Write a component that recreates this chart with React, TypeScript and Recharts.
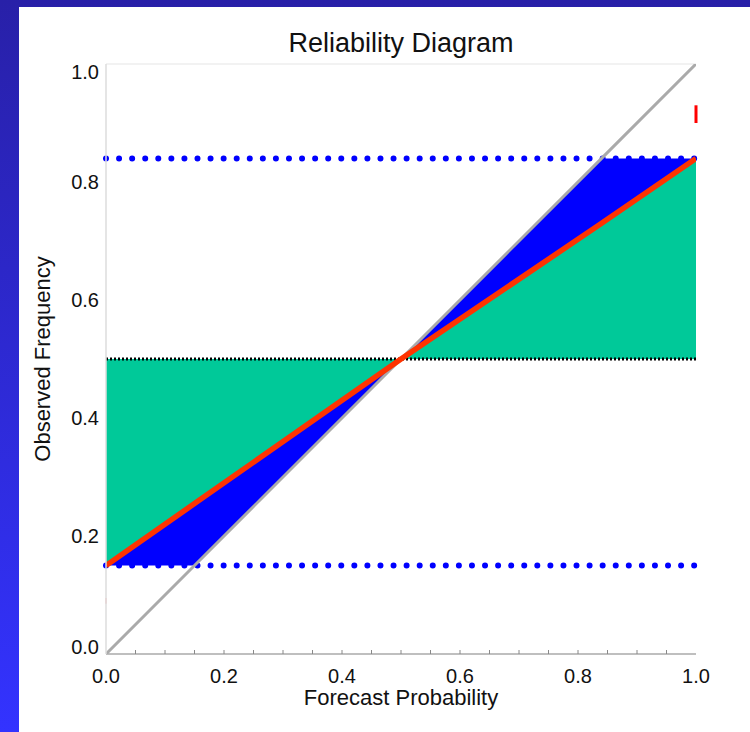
import React from 'react';
import {
  ComposedChart,
  Area,
  Line,
  XAxis,
  YAxis,
  ReferenceLine,
  Label,
} from 'recharts';

// Forecast probability break points
const forecast = [0, 0.15, 0.5, 0.84, 1];
// Observed frequency (reliability curve, red)
const observed = [0.15, 0.255, 0.5, 0.73, 0.84];
// Perfect reliability diagonal
const perfect = [0, 0.15, 0.5, 0.84, 1];
// Blue band (between reliability curve and diagonal, clipped by resolution limits)
const blueLow = [0.15, 0.15, 0.5, 0.73, 0.84];
const blueHigh = [0.15, 0.255, 0.5, 0.84, 0.84];
// Green band (between climatology and reliability curve)
const greenLow = [0.15, 0.255, 0.5, 0.5, 0.5];
const greenHigh = [0.5, 0.5, 0.5, 0.73, 0.84];

const climatology = 0.5;
const lowerLimit = 0.15;
const upperLimit = 0.84;

const xTicks = [0, 0.05, 0.1, 0.15, 0.2, 0.25, 0.3, 0.35, 0.4, 0.45, 0.5, 0.55, 0.6, 0.65, 0.7, 0.75, 0.8, 0.85, 0.9, 0.95, 1];
const yTicks = [0, 0.2, 0.4, 0.6, 0.8, 1];
const rightTicks = xTicks;

const data = forecast.map((p, i) => ({
  p,
  obs: observed[i],
  diag: perfect[i],
  blue: [blueLow[i], blueHigh[i]],
  green: [greenLow[i], greenHigh[i]],
}));

const FONT = '"Liberation Sans", Arial, Helvetica, sans-serif';

const XTick = (props: any) => {
  const { x, y, payload } = props;
  const v = payload.value as number;
  const major = Math.round(v * 100) % 20 === 0;
  return (
    <g>
      {v > 0.001 && v < 0.999 && (
        <line x1={x} x2={x} y1={y} y2={y - 4} stroke="#888" strokeWidth={1} />
      )}
      {major && (
        <text x={x} y={y + 29} textAnchor="middle" fontSize={20} fontFamily={FONT} fill="#111">
          {v.toFixed(1)}
        </text>
      )}
    </g>
  );
};

const YTick = (props: any) => {
  const { x, y, payload } = props;
  const v = payload.value as number;
  let dy = 7;
  if (v < 0.001) dy = 0;
  if (v > 0.999) dy = 15;
  return (
    <text x={x - 7} y={y + dy} textAnchor="end" fontSize={20} fontFamily={FONT} fill="#111">
      {v.toFixed(1)}
    </text>
  );
};

const RTick = (props: any) => {
  const { x, y, payload } = props;
  const v = payload.value as number;
  if (v < 0.001 || v > 0.999) return <g />;
  return <line x1={x} x2={x - 3} y1={y} y2={y} stroke="#777" strokeWidth={1} />;
};

export default function App() {
  return (
    <div
      style={{
        position: 'absolute',
        left: 0,
        top: 0,
        width: 750,
        height: 732,
        background: 'linear-gradient(to bottom, #2820a8 0%, #3333ff 100%)',
        overflow: 'hidden',
      }}
    >
      <div
        style={{
          position: 'absolute',
          left: 19,
          top: 7,
          width: 731,
          height: 725,
          background: '#ffffff',
        }}
      />
      <div
        style={{
          position: 'absolute',
          left: 201,
          top: 30,
          width: 400,
          textAlign: 'center',
          fontFamily: FONT,
          fontSize: 27,
          lineHeight: '27px',
          color: '#111',
        }}
      >
        Reliability Diagram
      </div>
      <div style={{ position: 'absolute', left: 0, top: 0 }}>
        <ComposedChart
          width={750}
          height={732}
          data={data}
          margin={{ top: 64, right: 54, bottom: 18, left: 36 }}
        >
          <XAxis
            dataKey="p"
            type="number"
            domain={[0, 1]}
            ticks={xTicks}
            tick={<XTick />}
            tickLine={false}
            tickSize={0}
            tickMargin={0}
            height={60}
            axisLine={{ stroke: '#aaaaaa', strokeWidth: 1.5 }}
            allowDataOverflow
            interval={0}
          >
            <Label
              value="Forecast Probability"
              position="insideBottom"
              offset={9}
              style={{ fontFamily: FONT, fontSize: 22, fill: '#111' }}
            />
          </XAxis>
          <YAxis
            type="number"
            domain={[0, 1]}
            ticks={yTicks}
            tick={<YTick />}
            tickLine={false}
            tickSize={0}
            tickMargin={0}
            width={70}
            axisLine={{ stroke: '#dddddd', strokeWidth: 1.5 }}
            allowDataOverflow
            interval={0}
          >
            <Label
              value="Observed Frequency"
              position="insideLeft"
              angle={-90}
              offset={6}
              style={{ fontFamily: FONT, fontSize: 22, fill: '#111', textAnchor: 'middle' }}
            />
          </YAxis>
          <YAxis
            yAxisId="r"
            orientation="right"
            type="number"
            domain={[0, 1]}
            ticks={rightTicks}
            tick={<RTick />}
            tickLine={false}
            tickSize={0}
            tickMargin={0}
            width={0}
            axisLine={{ stroke: '#999999', strokeWidth: 1.5 }}
            interval={0}
          />
          <ReferenceLine y={1} stroke="#eeeeee" strokeWidth={1.5} />
          <Area
            dataKey="green"
            type="linear"
            stroke="none"
            fill="#00c999"
            fillOpacity={1}
            isAnimationActive={false}
            activeDot={false}
          />
          <Area
            dataKey="blue"
            type="linear"
            stroke="none"
            fill="#0000ff"
            fillOpacity={1}
            isAnimationActive={false}
            activeDot={false}
          />
          <ReferenceLine
            y={climatology}
            stroke="#000000"
            strokeWidth={3}
            strokeDasharray="2 2"
          />
          <ReferenceLine
            y={upperLimit}
            stroke="#0000ff"
            strokeWidth={6}
            strokeDasharray="0 13.07"
            strokeLinecap="round"
          />
          <ReferenceLine
            y={lowerLimit}
            stroke="#0000ff"
            strokeWidth={6}
            strokeDasharray="0 13.07"
            strokeLinecap="round"
          />
          <ReferenceLine
            segment={[{ x: 1, y: 0.93 }, { x: 1, y: 0.9 }]}
            stroke="#ff0000"
            strokeWidth={3}
            ifOverflow="visible"
          />
          <ReferenceLine
            segment={[{ x: 0, y: 0.095 }, { x: 0, y: 0.085 }]}
            stroke="#ffcccc"
            strokeWidth={2}
            ifOverflow="visible"
          />
          <Line
            dataKey="diag"
            type="linear"
            stroke="#aaaaaa"
            strokeWidth={3}
            dot={false}
            activeDot={false}
            isAnimationActive={false}
          />
          <Line
            dataKey="obs"
            type="linear"
            stroke="#ff3300"
            strokeWidth={5.5}
            dot={false}
            activeDot={false}
            isAnimationActive={false}
          />
        </ComposedChart>
      </div>
    </div>
  );
}
